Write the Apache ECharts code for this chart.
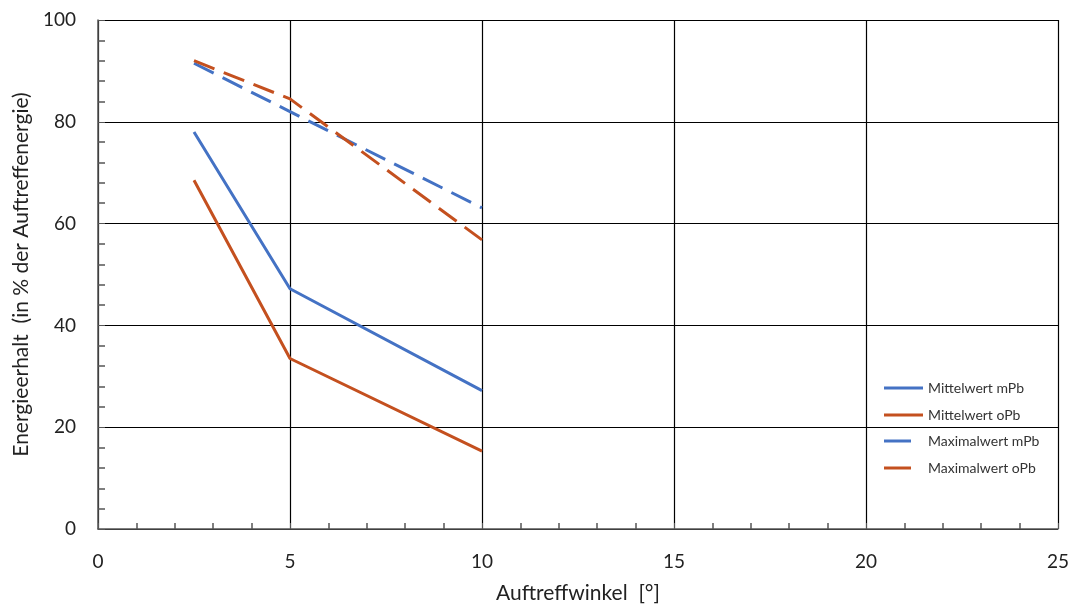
<!DOCTYPE html>
<html>
<head>
<meta charset="utf-8">
<script src="https://cdn.jsdelivr.net/npm/echarts@6/dist/echarts.min.js"></script>
<style>html,body{margin:0;padding:0;background:#fff;}#c{width:1079px;height:610px;}</style>
</head>
<body>
<div id="c"></div>
<script>
const xValues = [2.5, 5, 10];
const mittelMPb = [78, 47.2, 27.2];
const mittelOPb = [68.5, 33.5, 15.3];
const maxMPb = [91.5, 82, 63.1];
const maxOPb = [92, 84.5, 56.8];
const seriesNames = ['Mittelwert mPb', 'Mittelwert oPb', 'Maximalwert mPb', 'Maximalwert oPb'];
const xTicks = [0, 5, 10, 15, 20, 25];
const yTicks = [0, 20, 40, 60, 80, 100];

const BLUE = '#4472C4';
const ORANGE = '#C4501F';
const FONT = 'Lato, "Open Sans", sans-serif';

function pts(ys) { return xValues.map((x, i) => [x, ys[i]]); }
function mkSeries(name, ys, color, dashed) {
  return {
    name: name, type: 'line', data: pts(ys), symbol: 'none', showSymbol: false,
    lineStyle: { color: color, width: 3, type: dashed ? [22, 10] : 'solid' },
    itemStyle: { color: color }, silent: true, animation: false
  };
}

const chart = echarts.init(document.getElementById('c'));
chart.setOption({
  animation: false,
  backgroundColor: '#fff',
  grid: { left: 98, top: 20, right: 21, bottom: 81, show: false, containLabel: false, outerBoundsMode: 'none' },
  xAxis: {
    type: 'value', min: xTicks[0], max: xTicks[xTicks.length - 1], interval: 5,
    name: 'Auftreffwinkel  [°]', nameLocation: 'middle', nameGap: 54,
    nameTextStyle: { fontFamily: FONT, fontSize: 21, color: '#222' },
    axisLine: { show: true, lineStyle: { color: '#555', width: 1.5 } },
    axisTick: { show: true, inside: true, length: 6, lineStyle: { color: '#555' } },
    minorTick: { show: true, splitNumber: 5, length: 6, lineStyle: { color: '#555', width: 1.5 } },
    axisLabel: { fontFamily: FONT, fontSize: 19, color: '#222', margin: 23 },
    splitLine: { show: true, lineStyle: { color: '#000', width: 1.2 } }
  },
  yAxis: {
    type: 'value', min: yTicks[0], max: yTicks[yTicks.length - 1], interval: 20,
    name: 'Energieerhalt  (in % der Auftreffenergie)', nameLocation: 'middle', nameGap: 52,
    nameTextStyle: { fontFamily: FONT, fontSize: 21, color: '#222' },
    axisLine: { show: true, lineStyle: { color: '#555', width: 1.5 } },
    axisTick: { show: true, inside: true, length: 7, lineStyle: { color: '#555' } },
    minorTick: { show: true, splitNumber: 5, length: 7, lineStyle: { color: '#555', width: 1.5 } },
    axisLabel: { fontFamily: FONT, fontSize: 19, color: '#222', margin: 22 },
    splitLine: { show: true, lineStyle: { color: '#000', width: 1.2 } }
  },
  legend: [
    {
      data: [seriesNames[0], seriesNames[1]], orient: 'vertical', left: 884, top: 380, padding: 0,
      icon: 'rect', itemWidth: 39, itemHeight: 3, itemGap: 11,
      textStyle: { fontFamily: FONT, fontSize: 14, color: '#333', lineHeight: 16 }
    },
    {
      data: [seriesNames[2], seriesNames[3]], orient: 'vertical', left: 884, top: 433, padding: 0,
      icon: 'rect', itemWidth: 27, itemHeight: 3, itemGap: 11,
      textStyle: { fontFamily: FONT, fontSize: 14, color: '#333', lineHeight: 16, padding: [0, 0, 0, 12] }
    }
  ],
  series: [
    mkSeries(seriesNames[0], mittelMPb, BLUE, false),
    mkSeries(seriesNames[1], mittelOPb, ORANGE, false),
    mkSeries(seriesNames[2], maxMPb, BLUE, true),
    mkSeries(seriesNames[3], maxOPb, ORANGE, true)
  ]
});
</script>
</body>
</html>
